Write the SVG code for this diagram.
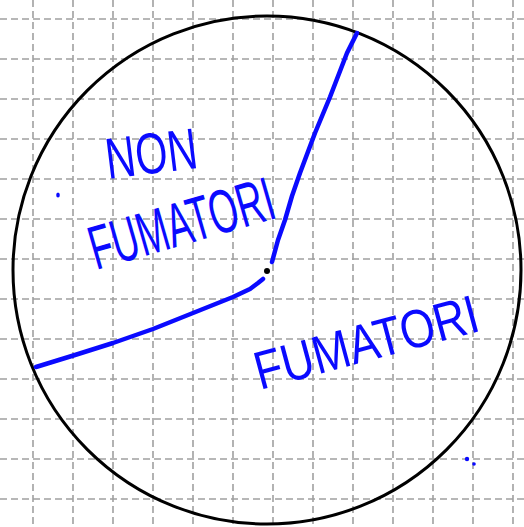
<svg xmlns="http://www.w3.org/2000/svg" width="524" height="527" viewBox="0 0 524 527">
<style>
.grid line{stroke:#a0a0a0;stroke-width:1.6;stroke-dasharray:7 4}
.ink{fill:none;stroke:#0a0aff;stroke-width:4.5;stroke-linecap:round;stroke-linejoin:round}
.lbl{font-family:"Liberation Sans","DejaVu Sans",sans-serif;fill:#0a0aff}
</style>
<rect width="524" height="527" fill="#ffffff"/>
<g id="grid" class="grid">
<line x1="33" y1="0" x2="33" y2="527"/><line x1="73" y1="0" x2="73" y2="527"/><line x1="113" y1="0" x2="113" y2="527"/><line x1="153" y1="0" x2="153" y2="527"/><line x1="193" y1="0" x2="193" y2="527"/><line x1="233" y1="0" x2="233" y2="527"/><line x1="273" y1="0" x2="273" y2="527"/><line x1="313" y1="0" x2="313" y2="527"/><line x1="353" y1="0" x2="353" y2="527"/><line x1="393" y1="0" x2="393" y2="527"/><line x1="433" y1="0" x2="433" y2="527"/><line x1="473" y1="0" x2="473" y2="527"/><line x1="513" y1="0" x2="513" y2="527"/>
<line x1="0" y1="19" x2="524" y2="19"/><line x1="0" y1="59" x2="524" y2="59"/><line x1="0" y1="99" x2="524" y2="99"/><line x1="0" y1="139" x2="524" y2="139"/><line x1="0" y1="179" x2="524" y2="179"/><line x1="0" y1="219" x2="524" y2="219"/><line x1="0" y1="259" x2="524" y2="259"/><line x1="0" y1="299" x2="524" y2="299"/><line x1="0" y1="339" x2="524" y2="339"/><line x1="0" y1="379" x2="524" y2="379"/><line x1="0" y1="419" x2="524" y2="419"/><line x1="0" y1="459" x2="524" y2="459"/><line x1="0" y1="499" x2="524" y2="499"/>
</g>
<g id="circle">
<circle cx="267" cy="270" r="254" fill="none" stroke="#000" stroke-width="3"/>
</g>
<g id="dividers">
<polyline class="ink" points="36,367 75,355 113,343 153,329 193,313 233,297 250,289 258,283 263,279"/>
<polyline class="ink" points="357,33 347,53 330,97 315,133 300,173 292,196 285,220 278,240 272,262"/>
<circle cx="267" cy="271" r="3" fill="#000"/>
</g>
<g id="label-non-fumatori">
<text class="lbl" x="108" y="179" font-size="58" textLength="92" lengthAdjust="spacingAndGlyphs" transform="rotate(-7 108 179)">NON</text>
<text class="lbl" x="96" y="270" font-size="62" textLength="190" lengthAdjust="spacingAndGlyphs" transform="rotate(-16 96 270)">FUMATORI</text>
</g>
<g id="label-fumatori">
<text class="lbl" x="260" y="390" font-size="54" textLength="230" lengthAdjust="spacingAndGlyphs" transform="rotate(-15 260 390)">FUMATORI</text>
</g>
<g id="dots" fill="#0a0aff">
<ellipse cx="58" cy="195" rx="1.8" ry="2.6"/>
<circle cx="467" cy="459" r="2.2"/>
<circle cx="474" cy="464" r="1.8"/>
</g>
</svg>
